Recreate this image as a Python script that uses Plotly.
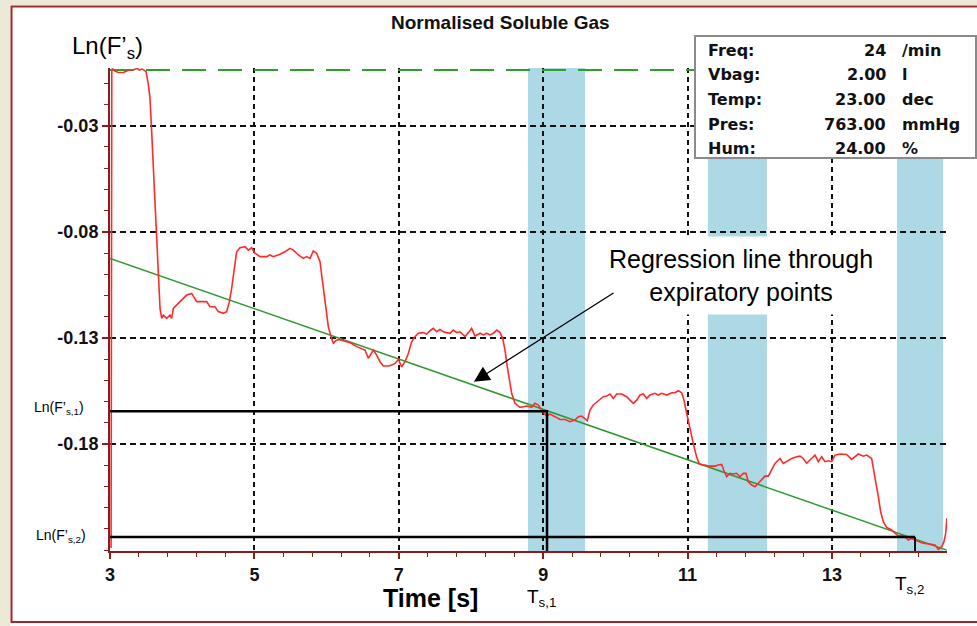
import plotly.graph_objects as go

# ---------------- data ----------------
time_s = [3.015, 3.025, 3.037, 3.069, 3.115, 3.185, 3.231, 3.277, 3.323, 3.360, 3.379, 3.406, 3.439, 3.471, 3.499,
          3.531, 3.554, 3.577, 3.600, 3.623, 3.646, 3.669, 3.693, 3.716, 3.739, 3.785, 3.831, 3.854, 3.877, 3.970,
          4.062, 4.131, 4.200, 4.293, 4.339, 4.385, 4.454, 4.500, 4.570, 4.616, 4.653, 4.685, 4.708, 4.731, 4.754,
          4.801, 4.870, 4.916, 4.962, 5.008, 5.078, 5.170, 5.216, 5.262, 5.355, 5.424, 5.493, 5.539, 5.608, 5.678,
          5.724, 5.770, 5.816, 5.862, 5.909, 5.932, 5.964, 6.001, 6.024, 6.050, 6.070, 6.093, 6.120, 6.163, 6.232,
          6.324, 6.416, 6.486, 6.532, 6.578, 6.624, 6.647, 6.693, 6.740, 6.786, 6.855, 6.901, 6.947, 6.994, 7.040,
          7.086, 7.132, 7.178, 7.224, 7.271, 7.340, 7.386, 7.432, 7.478, 7.524, 7.571, 7.617, 7.663, 7.709, 7.755,
          7.802, 7.848, 7.917, 7.963, 8.009, 8.055, 8.125, 8.171, 8.217, 8.263, 8.309, 8.356, 8.402, 8.439, 8.471,
          8.503, 8.531, 8.563, 8.609, 8.679, 8.725, 8.771, 8.840, 8.886, 8.933, 9.000, 9.048, 9.094, 9.163, 9.233,
          9.302, 9.371, 9.440, 9.487, 9.533, 9.579, 9.611, 9.648, 9.694, 9.764, 9.833, 9.879, 9.925, 9.971, 10.018,
          10.087, 10.156, 10.202, 10.248, 10.295, 10.341, 10.387, 10.433, 10.479, 10.548, 10.595, 10.641, 10.710,
          10.779, 10.825, 10.872, 10.918, 10.950, 10.987, 11.024, 11.056, 11.089, 11.125, 11.163, 11.218, 11.241,
          11.287, 11.310, 11.380, 11.426, 11.472, 11.504, 11.541, 11.587, 11.633, 11.680, 11.726, 11.772, 11.809,
          11.841, 11.887, 11.934, 11.980, 12.026, 12.072, 12.118, 12.164, 12.211, 12.257, 12.280, 12.326, 12.372,
          12.441, 12.511, 12.557, 12.603, 12.649, 12.695, 12.765, 12.811, 12.857, 12.903, 12.949, 12.995, 13.042,
          13.111, 13.203, 13.272, 13.319, 13.365, 13.434, 13.480, 13.549, 13.572, 13.609, 13.642, 13.674, 13.711,
          13.757, 13.826, 13.873, 13.919, 13.965, 14.011, 14.057, 14.103, 14.150, 14.196, 14.242, 14.288, 14.357,
          14.427, 14.473, 14.519, 14.551, 14.575, 14.592]
ln_fs = [-0.2290, -0.0035, -0.0033, -0.0042, -0.0049, -0.0049, -0.0042, -0.0036, -0.0036, -0.0033, -0.0030, -0.0038,
         -0.0033, -0.0038, -0.0045, -0.0105, -0.0171, -0.0328, -0.0485, -0.0627, -0.0784, -0.1004, -0.1161, -0.1208,
         -0.1192, -0.1208, -0.1192, -0.1208, -0.1161, -0.1129, -0.1098, -0.1090, -0.1129, -0.1129, -0.1129, -0.1153,
         -0.1153, -0.1176, -0.1184, -0.1176, -0.1129, -0.1066, -0.1004, -0.0956, -0.0894, -0.0875, -0.0870, -0.0886,
         -0.0875, -0.0901, -0.0917, -0.0917, -0.0909, -0.0917, -0.0906, -0.0894, -0.0878, -0.0886, -0.0909, -0.0925,
         -0.0917, -0.0925, -0.0890, -0.0901, -0.0941, -0.1004, -0.1098, -0.1208, -0.1247, -0.1280, -0.1300, -0.1326,
         -0.1315, -0.1307, -0.1313, -0.1322, -0.1341, -0.1349, -0.1357, -0.1396, -0.1365, -0.1357, -0.1381, -0.1412,
         -0.1432, -0.1432, -0.1428, -0.1420, -0.1401, -0.1436, -0.1412, -0.1373, -0.1318, -0.1294, -0.1278, -0.1275,
         -0.1282, -0.1266, -0.1255, -0.1271, -0.1260, -0.1271, -0.1275, -0.1278, -0.1263, -0.1275, -0.1271, -0.1294,
         -0.1275, -0.1255, -0.1291, -0.1278, -0.1286, -0.1278, -0.1286, -0.1278, -0.1263, -0.1275, -0.1302, -0.1357,
         -0.1436, -0.1498, -0.1561, -0.1608, -0.1627, -0.1624, -0.1621, -0.1627, -0.1608, -0.1616, -0.1650, -0.1668,
         -0.1659, -0.1671, -0.1684, -0.1684, -0.1695, -0.1687, -0.1671, -0.1668, -0.1679, -0.1690, -0.1640, -0.1616,
         -0.1596, -0.1577, -0.1574, -0.1564, -0.1585, -0.1564, -0.1564, -0.1577, -0.1593, -0.1608, -0.1593, -0.1569,
         -0.1564, -0.1585, -0.1569, -0.1561, -0.1569, -0.1561, -0.1569, -0.1558, -0.1558, -0.1549, -0.1558, -0.1593,
         -0.1655, -0.1718, -0.1765, -0.1813, -0.1860, -0.1894, -0.1899, -0.1899, -0.1904, -0.1904, -0.1904, -0.1899,
         -0.1896, -0.1926, -0.1954, -0.1938, -0.1941, -0.1938, -0.1954, -0.1938, -0.1938, -0.1978, -0.1993, -0.2001,
         -0.1985, -0.1967, -0.1951, -0.1951, -0.1923, -0.1891, -0.1875, -0.1868, -0.1891, -0.1883, -0.1868, -0.1860,
         -0.1857, -0.1868, -0.1891, -0.1875, -0.1852, -0.1883, -0.1860, -0.1883, -0.1879, -0.1883, -0.1852, -0.1847,
         -0.1849, -0.1872, -0.1860, -0.1847, -0.1857, -0.1852, -0.1868, -0.1907, -0.1985, -0.2048, -0.2119, -0.2166,
         -0.2193, -0.2205, -0.2218, -0.2234, -0.2229, -0.2237, -0.2252, -0.2245, -0.2252, -0.2260, -0.2265, -0.2268,
         -0.2271, -0.2276, -0.2296, -0.2284, -0.2260, -0.2221, -0.2150]

reg_x = [3.0, 14.59]
reg_y = [-0.0925, -0.2300]
baseline_x = [3.0, 14.59]
baseline_y = [-0.0037, -0.0037]

band_starts = [8.79, 11.28, 13.90]
band_ends = [9.58, 12.10, 14.54]

t_s1, ln_s1 = 9.053, -0.1645
t_s2, ln_s2 = 14.15, -0.2238

x_range = [3.0, 14.593]
y_range = [-0.2304, -0.0028]
x_ticks = [3, 5, 7, 9, 11, 13]
y_ticks = [-0.03, -0.08, -0.13, -0.18]
y_ticklabels = ["-0.03", "-0.08", "-0.13", "-0.18"]

info_labels = ["Freq:", "Vbag:", "Temp:", "Pres:", "Hum:"]
info_values = ["24", "2.00", "23.00", "763.00", "24.00"]
info_units = ["/min", "l", "dec", "mmHg", "%"]

# ---------------- figure ----------------
W, H = 977, 626
L, R, T, B = 110, 30, 68, 75
PW, PH = W - L - R, H - T - B


def px(xp):
    return (xp - L) / PW


def py(yp):
    return (H - B - yp) / PH


AXIS_RED = "#8B1C1C"
FONT = "Liberation Sans"

fig = go.Figure()

fig.add_trace(go.Scatter(x=baseline_x, y=baseline_y, mode="lines",
                         line=dict(color="#2BA02B", width=2, dash="24px,12px"), hoverinfo="skip"))
fig.add_trace(go.Scatter(x=reg_x, y=reg_y, mode="lines",
                         line=dict(color="#2E9A2E", width=1.5), hoverinfo="skip"))
fig.add_trace(go.Scatter(x=time_s, y=ln_fs, mode="lines",
                         line=dict(color="#FF2A2A", width=1.6), hoverinfo="skip"))
fig.add_trace(go.Scatter(x=[x_range[0], t_s1, t_s1], y=[ln_s1, ln_s1, y_range[0]], mode="lines",
                         line=dict(color="black", width=2.5), hoverinfo="skip"))
fig.add_trace(go.Scatter(x=[x_range[0], t_s2], y=[ln_s2, ln_s2], mode="lines",
                         line=dict(color="black", width=2.5), hoverinfo="skip"))
fig.add_trace(go.Scatter(x=[t_s2, t_s2], y=[ln_s2, y_range[0]], mode="lines",
                         line=dict(color="black", width=1.8), hoverinfo="skip"))

shapes = []
for x0, x1 in zip(band_starts, band_ends):
    shapes.append(dict(type="rect", xref="x", yref="paper", x0=x0, x1=x1, y0=0, y1=1,
                       fillcolor="#ADD8E6", line=dict(width=0), layer="below"))
# window decoration: beige strips and dark-red frame
shapes.append(dict(type="rect", xref="paper", yref="paper", x0=px(0), x1=px(10), y0=py(H), y1=py(0),
                   fillcolor="#ECE9D8", line=dict(width=0), layer="below"))
shapes.append(dict(type="rect", xref="paper", yref="paper", x0=px(0), x1=px(W), y0=py(5), y1=py(0),
                   fillcolor="#ECE9D8", line=dict(width=0), layer="below"))
shapes.append(dict(type="rect", xref="paper", yref="paper", x0=px(11.5), x1=px(990), y0=py(622), y1=py(6.5),
                   fillcolor="rgba(0,0,0,0)", line=dict(color="#9B2A2A", width=2), layer="below"))
# info box
shapes.append(dict(type="rect", xref="paper", yref="paper", x0=px(695), x1=px(976), y0=py(158), y1=py(36),
                   fillcolor="white", line=dict(color="#8A8A8A", width=2), layer="above"))

annotations = []
annotations.append(dict(text="Normalised Soluble Gas", xref="paper", yref="paper", x=px(500), y=py(23),
                        xanchor="center", yanchor="middle", showarrow=False,
                        font=dict(family=FONT, size=19, color="#111", weight="bold")))
annotations.append(dict(text="Ln(F’<sub>s</sub>)", xref="paper", yref="paper", x=px(70), y=py(47),
                        xanchor="left", yanchor="middle", showarrow=False,
                        font=dict(family=FONT, size=24, color="black")))
annotations.append(dict(text="Ln(F’<sub>s,1</sub>)", xref="paper", yref="y", x=px(86), y=ln_s1, yshift=3,
                        xanchor="right", yanchor="middle", showarrow=False,
                        font=dict(family=FONT, size=14, color="black")))
annotations.append(dict(text="Ln(F’<sub>s,2</sub>)", xref="paper", yref="y", x=px(88), y=ln_s2, yshift=1,
                        xanchor="right", yanchor="middle", showarrow=False,
                        font=dict(family=FONT, size=14, color="black")))
annotations.append(dict(text="T<sub>s,1</sub>", xref="x", yref="paper", x=t_s1, xshift=-6, y=py(598),
                        xanchor="center", yanchor="middle", showarrow=False,
                        font=dict(family=FONT, size=19, color="black")))
annotations.append(dict(text="T<sub>s,2</sub>", xref="x", yref="paper", x=t_s2, xshift=-6, y=py(585),
                        xanchor="center", yanchor="middle", showarrow=False,
                        font=dict(family=FONT, size=19, color="black")))
annotations.append(dict(text="Time [s]", xref="paper", yref="paper", x=px(430), y=py(598),
                        xanchor="center", yanchor="middle", showarrow=False,
                        font=dict(family=FONT, size=25, color="black", weight="bold")))
annotations.append(dict(text="Regression line through<br>expiratory points", xref="paper", yref="paper",
                        x=px(740.5), y=py(275.5), xanchor="center", yanchor="middle", showarrow=False,
                        bgcolor="white", borderpad=8, align="center",
                        font=dict(family=FONT, size=25, color="black")))
annotations.append(dict(text="", x=8.04, y=-0.1506, ax=9.994, ay=-0.1084, axref="x", ayref="y",
                        xref="x", yref="y", showarrow=True, arrowhead=2, arrowsize=2.4, arrowwidth=1.3,
                        arrowcolor="black", standoff=0, startstandoff=0))

info_rows_y = [50.8, 74.2, 99.2, 124.2, 148.3]
INFO_FONT = dict(family="DejaVu Sans", size=16, color="#111", weight="bold")
for lab, val, unit, yy in zip(info_labels, info_values, info_units, info_rows_y):
    annotations.append(dict(text=lab, xref="paper", yref="paper", x=px(706), y=py(yy),
                            xanchor="left", yanchor="middle", showarrow=False, font=INFO_FONT))
    annotations.append(dict(text=val, xref="paper", yref="paper", x=px(888), y=py(yy),
                            xanchor="right", yanchor="middle", showarrow=False, font=INFO_FONT))
    annotations.append(dict(text=unit, xref="paper", yref="paper", x=px(900), y=py(yy),
                            xanchor="left", yanchor="middle", showarrow=False, font=INFO_FONT))

fig.update_layout(
    width=W, height=H, autosize=False,
    margin=dict(l=L, r=R, t=T, b=B, pad=0),
    paper_bgcolor="white", plot_bgcolor="white",
    showlegend=False,
    shapes=shapes, annotations=annotations,
    xaxis=dict(range=x_range, tickmode="array", tickvals=x_ticks,
               showgrid=True, gridcolor="#111", gridwidth=1.6, griddash="5px,4px",
               showline=True, linecolor=AXIS_RED, linewidth=2, zeroline=False,
               ticks="outside", ticklen=6, tickwidth=1.5, tickcolor=AXIS_RED,
               tickfont=dict(family=FONT, size=18, color="#111", weight="bold"),
               minor=dict(tickmode="linear", tick0=3, dtick=0.4, ticks="outside", ticklen=4,
                          tickwidth=1.3, tickcolor=AXIS_RED, showgrid=False)),
    yaxis=dict(range=y_range, tickmode="array", tickvals=y_ticks, ticktext=y_ticklabels,
               showgrid=True, gridcolor="#111", gridwidth=1.6, griddash="6px,4px",
               showline=True, linecolor=AXIS_RED, linewidth=2, zeroline=False,
               ticks="outside", ticklen=6, tickwidth=1.5, tickcolor=AXIS_RED,
               tickfont=dict(family=FONT, size=18, color="#111", weight="bold"),
               minor=dict(tickmode="linear", tick0=-0.03, dtick=0.01, ticks="outside", ticklen=4,
                          tickwidth=1.3, tickcolor=AXIS_RED, showgrid=False)),
)

fig.write_html("out.html", config={"displayModeBar": False})
